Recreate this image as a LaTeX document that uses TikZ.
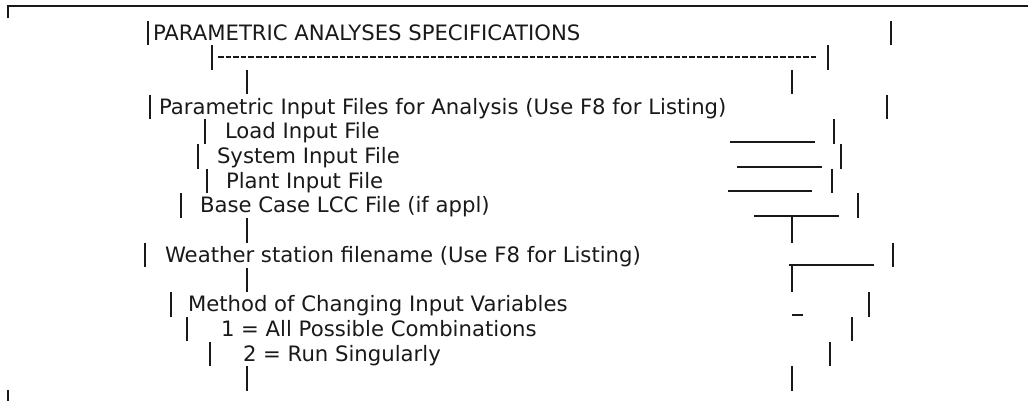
\documentclass[tikz,border=0pt]{standalone}
\usepackage{fontspec}
\setmainfont{DejaVu Sans}
\usepackage{xcolor}
\tikzset{
    rule/.style={line width=1.7pt,black!90},
    uline/.style={line width=1.6pt,black!90},
    txt/.style={anchor=base west,inner sep=0pt,outer sep=0pt,
        text=black!90,font=\fontsize{21.2}{25}\selectfont}
}
% one row of the form: baseline y, left and right bar
\newcommand{\formrow}[3] {
    \draw[rule] (#2, {#1-19.5}) -- (#2, {#1+5});
    \draw[rule] (#3, {#1-19.5}) -- (#3, {#1+5});
}

\begin{document}
\begin{tikzpicture}[x=1pt,y=-1pt]
    \useasboundingbox (0,0) rectangle (1028,400);
    % frame corners
    \draw[rule,line width=2pt] (8,18) -- (8,6) -- (1030,6);
    \draw[rule] (8,390) -- (8,402);
    % bars of the rows
    \foreach \r/\xl/\xr in {
        1/148/891, 2/212/828, 3/247/792, 4/150/887, 5/205/834,
        6/198/841, 7/207/832, 8/181/858, 9/247/792, 10/145/893,
        11/247/792, 12/171/869, 13/187/852, 14/210/830, 15/247/792
    } {
        \pgfmathsetmacro{\yb}{40+24.7*(\r-1)}
        \formrow{\yb}{\xl}{\xr}
    }
    % texts
    \node[txt] (title)   at (153,40)    {PARAMETRIC ANALYSES SPECIFICATIONS};
    \node[txt] (files)   at (159,114.1) {Parametric Input Files for Analysis (Use F8 for Listing)};
    \node[txt] (load)    at (225,138.8) {Load Input File};
    \node[txt] (system)  at (217,163.5) {System Input File};
    \node[txt] (plant)   at (226,188.2) {Plant Input File};
    \node[txt] (lcc)     at (200,212.9) {Base Case LCC File (if appl)};
    \node[txt] (weather) at (165,262.3) {Weather station filename (Use F8 for Listing)};
    \node[txt] (method)  at (188,311.7) {Method of Changing Input Variables};
    \node[txt] (combi)   at (221,336.4) {1 = All Possible Combinations};
    \node[txt] (single)  at (243,361.1) {2 = Run Singularly};
    % rule under the title
    \draw[uline,line width=1.3pt,dash pattern=on 5.5pt off 2.1pt] (218,57) -- (818,57);
    % entry fields
    \draw[uline] (730,142) -- (815,142);
    \draw[uline] (737,167) -- (822,167);
    \draw[uline] (728,191) -- (812,191);
    \draw[uline] (754,216) -- (839,216);
    \draw[rule]  (792,216) -- (792,219);
    \draw[uline] (789,265) -- (874,265);
    \draw[rule]  (792,265) -- (792,268);
    \draw[uline] (792,315) -- (803,315);
\end{tikzpicture}
\end{document}
